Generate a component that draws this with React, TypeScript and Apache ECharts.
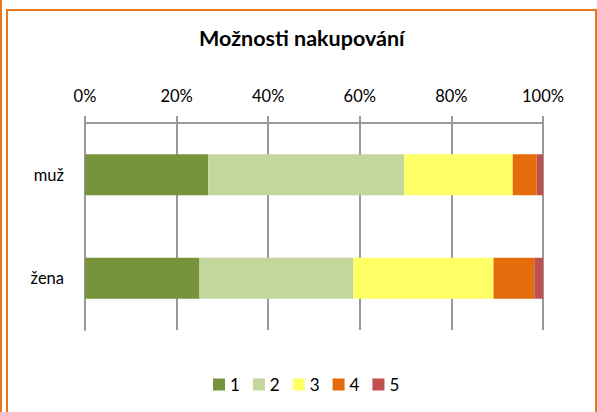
import React, { useEffect, useRef } from "react";
import * as echarts from "echarts";

const categories = ["muž", "žena"];
const seriesNames = ["1", "2", "3", "4", "5"];
const values1 = [26.9, 25.0];
const values2 = [42.8, 33.6];
const values3 = [23.7, 30.6];
const values4 = [5.2, 8.9];
const values5 = [1.4, 1.9];
const colors = ["#77933C", "#C3D69B", "#FFFF66", "#E46C0A", "#C0504D"];
const xTicks = [0, 20, 40, 60, 80, 100];

const FONT = "Lato, 'Open Sans', sans-serif";

export default function App() {
  const ref = useRef<HTMLDivElement>(null);
  useEffect(() => {
    if (!ref.current) return;
    const chart = echarts.init(ref.current, undefined, { renderer: "svg" });
    const all = [values1, values2, values3, values4, values5];
    chart.setOption({
      animation: false,
      backgroundColor: "#ffffff",
      textStyle: { fontFamily: FONT },
      title: {
        text: "Možnosti nakupování",
        left: 194,
        top: 22,
        textStyle: { fontFamily: FONT, fontSize: 21.5, fontWeight: "bold", color: "#000" },
      },
      legend: {
        data: seriesNames,
        left: 208,
        top: 371,
        itemWidth: 12,
        itemHeight: 12,
        itemGap: 13,
        icon: "rect",
        textStyle: { fontFamily: FONT, fontSize: 17, color: "#000" },
      },
      grid: { left: 85, right: 54, top: 123, bottom: 82, containLabel: false },
      xAxis: {
        type: "value",
        position: "top",
        min: xTicks[0],
        max: xTicks[xTicks.length - 1],
        interval: 20,
        axisLine: { show: true, lineStyle: { color: "#999", width: 2 } },
        axisTick: { show: true, length: 7, lineStyle: { color: "#999", width: 2 } },
        splitLine: { show: true, lineStyle: { color: "#999", width: 2 } },
        axisLabel: {
          formatter: "{value}%",
          margin: 19,
          color: "#000",
          fontSize: 16.5,
          fontFamily: FONT,
        },
      },
      yAxis: {
        type: "category",
        data: categories,
        inverse: true,
        axisLine: { show: true, lineStyle: { color: "#999", width: 2 } },
        axisTick: { show: false },
        axisLabel: { margin: 21, color: "#000", fontSize: 16.5, fontFamily: FONT },
      },
      series: seriesNames.map((name, i) => ({
        name,
        type: "bar",
        stack: "total",
        barWidth: 41,
        data: all[i],
        itemStyle: { color: colors[i] },
      })),
      graphic: [
        {
          type: "line",
          shape: { x1: 1, y1: 0, x2: 1, y2: 412 },
          style: { stroke: "#E8761C", lineWidth: 2 },
        },
        {
          type: "polyline",
          shape: { points: [[7, 412], [7, 10], [596, 10], [596, 412]] },
          style: { stroke: "#E8761C", lineWidth: 2, fill: "none" },
        },
      ],
    });
    return () => chart.dispose();
  }, []);
  return (
    <div
      ref={ref}
      style={{ position: "fixed", left: 0, top: 0, width: 597, height: 412 }}
    />
  );
}
